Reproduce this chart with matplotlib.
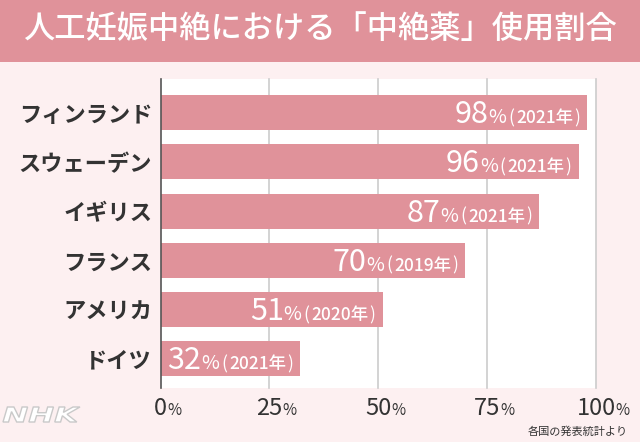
import matplotlib
matplotlib.use('Agg')
import matplotlib.pyplot as plt
from matplotlib.textpath import TextPath
from matplotlib.patches import PathPatch
from matplotlib.font_manager import FontProperties
from matplotlib.transforms import Affine2D, IdentityTransform

plt.rcParams['font.family'] = ['Noto Sans CJK JP', 'DejaVu Sans']

countries = ['フィンランド', 'スウェーデン', 'イギリス', 'フランス', 'アメリカ', 'ドイツ']
values = [98, 96, 87, 70, 51, 32]
years = ['2021', '2021', '2021', '2019', '2020', '2021']
xticks = [0, 25, 50, 75, 100]

title = '人工妊娠中絶における「中絶薬」使用割合'
source = '各国の発表統計より'

BAR = '#e0929a'
BG = '#fdf0f1'
DARK = '#333333'
W, H = 640, 442


def main():
    fig = plt.figure(figsize=(W / 100, H / 100), dpi=100, facecolor=BG)

    # title banner
    fig.patches.append(plt.Rectangle((0, 1 - 62 / H), 1, 62 / H, transform=fig.transFigure,
                                     facecolor=BAR, edgecolor='none', zorder=0))
    fig.text(0.5, 1 - 29 / H, title, ha='center', va='center', color='white',
             fontsize=22.5, fontweight='medium')

    ax = fig.add_axes([160.5 / W, 54 / H, 435.5 / W, 309 / H])
    ax.set_facecolor('white')
    n = len(countries)
    pos = list(range(n))
    ax.barh(pos, values, height=0.71, color=BAR, zorder=2)
    ax.set_xlim(0, 100)
    ax.set_ylim(n - 1 + 0.59, -0.68)
    for x in xticks[1:]:
        ax.axvline(x, color='#cccccc', lw=1.2, zorder=1, clip_on=False)
    for s in ['top', 'right', 'bottom']:
        ax.spines[s].set_visible(False)
    ax.spines['left'].set_color('#555555')
    ax.spines['left'].set_linewidth(1.2)
    ax.spines['left'].set_zorder(3)
    ax.set_xticks([])
    ax.set_yticks(pos)
    ax.set_yticklabels(countries, fontsize=16, fontweight='bold', color=DARK)
    ax.tick_params(axis='y', length=0, pad=6)

    fig.canvas.draw()
    r = fig.canvas.get_renderer()

    def px(x, y, s, **kw):
        return fig.text(x / W, y / H, s, **kw)

    # value labels inside bars, built right to left
    for i, (v, yr) in enumerate(zip(values, years)):
        xe, yc = ax.transData.transform((v, i))
        base = yc - 10.5
        parts = [(')', 12.5, -7, 'normal'), (yr + '年', 12.5, -1, 'medium'),
                 ('(', 12.5, -2, 'normal'), ('%', 14, -2, 'normal'),
                 (str(v), 22, 0, 'normal')]
        left = xe
        for s, fs, gap, fw in parts:
            t = px(left + gap, base, s, ha='right', va='baseline', color='white',
                   fontsize=fs, fontweight=fw)
            left = t.get_window_extent(r).x0

    # x tick labels
    for x in xticks:
        xp, _ = ax.transData.transform((x, 0))
        t = px(xp, 27, str(x), ha='center', va='baseline', color=DARK, fontsize=17)
        right = t.get_window_extent(r).x1
        px(right, 27, '%', ha='left', va='baseline', color=DARK, fontsize=11)

    # logo
    tp = TextPath((0, 0), 'NHK', size=20,
                  prop=FontProperties(family='DejaVu Sans', weight='bold', style='italic'))
    ext = tp.get_extents()
    sx = 77 / ext.width
    sy = 15 / ext.height
    tr = Affine2D().translate(-ext.x0, -ext.y0).scale(sx, sy).translate(3, H - 422)
    fig.patches.append(PathPatch(tp, transform=tr + IdentityTransform(), facecolor='white',
                                 edgecolor='#c9c9c9', lw=1.0))

    fig.text(628 / W, 1 - 432 / H, source, ha='right', va='center', color=DARK, fontsize=8)

    fig.savefig('out.png', dpi=100, facecolor=BG)


if __name__ == '__main__':
    main()
